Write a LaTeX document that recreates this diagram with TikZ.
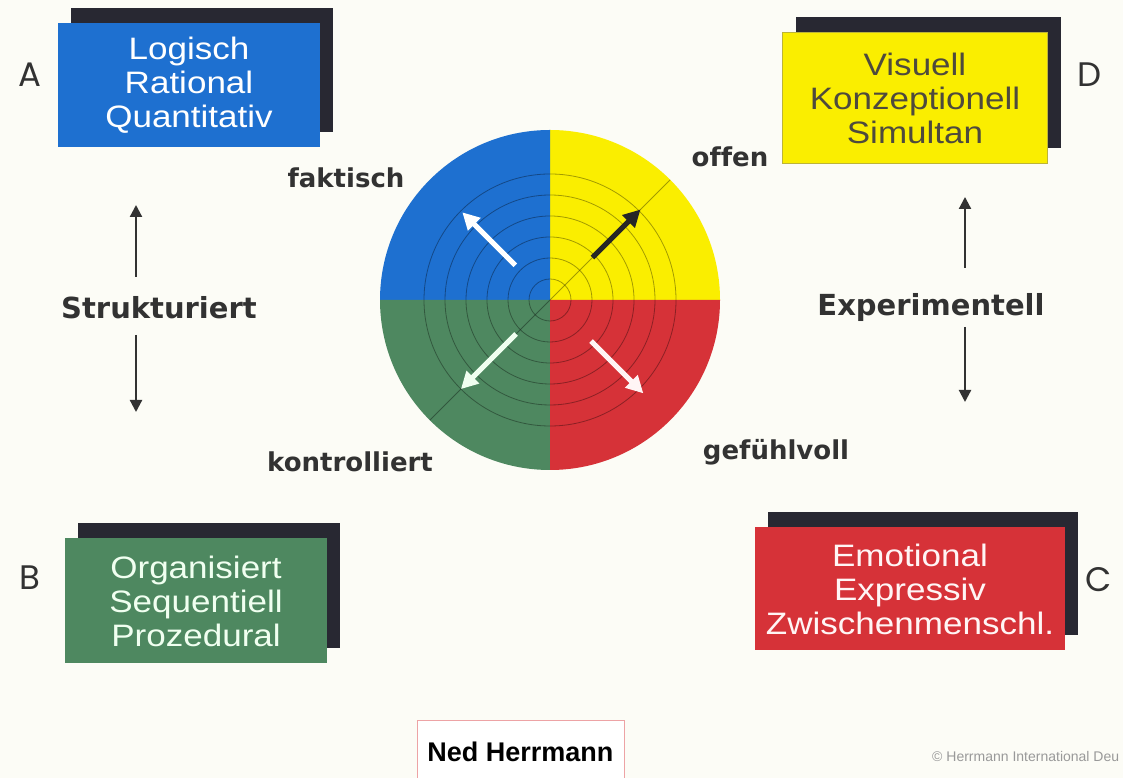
\documentclass[tikz,border=0pt]{standalone}
\usepackage{fontspec}
\setmainfont{Liberation Sans}
\newfontfamily\boxfont{Liberation Sans}[FakeStretch=1.13]
\newfontfamily\lblfont{DejaVu Sans}[Ligatures=NoCommon]
\newfontfamily\letterfont{Poppins}
\usetikzlibrary{arrows.meta,shadows}

\definecolor{paper}{RGB}{252,252,246}
\definecolor{hblue}{RGB}{30,112,208}
\definecolor{hyellow}{RGB}{250,238,0}
\definecolor{hgreen}{RGB}{78,136,96}
\definecolor{hred}{RGB}{214,50,56}
\definecolor{shade}{RGB}{40,40,50}
\definecolor{ink}{RGB}{50,50,50}

\tikzset{
  quad/.style={general shadow={shadow xshift=13pt, shadow yshift=15pt, fill=shade},
    inner sep=0pt, align=center, font=\boxfont\fontsize{31}{34}\selectfont},
  lbl/.style={text=ink, font=\lblfont\bfseries\fontsize{26}{30}\selectfont},
  biglbl/.style={text=ink, font=\lblfont\bfseries\fontsize{29}{32}\selectfont},
  letter/.style={text=ink, font=\letterfont\fontsize{34}{36}\selectfont},
  ring/.style={draw=black, opacity=0.35, line width=0.8pt},
  spoke/.style={line width=5pt, -{Triangle[length=17pt,width=17pt]}},
  updown/.style={draw=ink, line width=2.2pt, -{Triangle[length=12pt,width=12pt]}}
}

\begin{document}
\begin{tikzpicture}[x=1pt,y=1pt]
    \useasboundingbox (0,0) rectangle (1123,778);
    \fill[paper] (0,0) rectangle (1123,778);

    % circle
    \coordinate (O) at (550,478);
    \fill[hyellow] (O) -- ++(0:170pt) arc (0:90:170pt) -- cycle;
    \fill[hblue] (O) -- ++(90:170pt) arc (90:180:170pt) -- cycle;
    \fill[hgreen] (O) -- ++(180:170pt) arc (180:270:170pt) -- cycle;
    \fill[hred] (O) -- ++(270:170pt) arc (270:360:170pt) -- cycle;
    \foreach \r in {21,42,63,84,105,126}
      \draw[ring] (O) circle (\r pt);
    \draw[ring] ([shift={(225:170pt)}]O) -- ([shift={(45:170pt)}]O);

    \draw[spoke, white] ([shift={(135:49pt)}]O) -- ([shift={(135:124pt)}]O);
    \draw[spoke, black!85] ([shift={(45:60pt)}]O) -- ([shift={(45:128pt)}]O);
    \draw[spoke, green!6!white] ([shift={(225:48pt)}]O) -- ([shift={(225:126pt)}]O);
    \draw[spoke, red!4!white] ([shift={(315:58pt)}]O) -- ([shift={(315:132pt)}]O);

    \node[lbl] (fakt) at (346,600) {faktisch};
    \node[lbl] (offen) at (730,621) {offen};
    \node[lbl] (kontr) at (350,316) {kontrolliert};
    \node[lbl] (gefuehl) at (776,326) {gefühlvoll};

    % boxes
    \node[quad, fill=hblue, text=white, minimum width=262pt, minimum height=124pt]
      (A) at (189,693) {Logisch\\Rational\\Quantitativ};
    \node[quad, fill=hgreen, text=green!6!white, minimum width=262pt, minimum height=125pt]
      (B) at (196,177) {Organisiert\\Sequentiell\\Prozedural};
    \node[quad, fill=hred, text=red!4!white, minimum width=310pt, minimum height=123pt]
      (C) at (910,189) {Emotional\\Expressiv\\Zwischenmenschl.};
    \node[quad, fill=hyellow, draw=yellow!70!black, text=black!80!yellow, minimum width=265pt, minimum height=131pt]
      (D) at (915,680) {Visuell\\Konzeptionell\\Simultan};

    \node[letter] (la) at (30,703) {A};
    \node[letter] (lb) at (30,200) {B};
    \node[letter] (lc) at (1099,198) {C};
    \node[letter] (ld) at (1090,703) {D};

    % axes
    \node[biglbl] (struk) at (159,470) {Strukturiert};
    \node[biglbl] (exper) at (931,470) {Experimentell};
    \coordinate (s1) at (136,501);
    \coordinate (s2) at (136,573);
    \coordinate (s3) at (136,443);
    \coordinate (s4) at (136,366);
    \coordinate (e1) at (965,510);
    \coordinate (e2) at (965,581);
    \coordinate (e3) at (965,451);
    \coordinate (e4) at (965,376);
    \draw[updown] (s1) -- (s2);
    \draw[updown] (s3) -- (s4);
    \draw[updown] (e1) -- (e2);
    \draw[updown] (e3) -- (e4);

    \node[draw=hred!45, line width=1pt, fill=white, minimum width=207pt, minimum height=62pt,
      font=\bfseries\fontsize{27}{30}\selectfont] (ned) at (520.5,26) {Ned Herrmann};
    \node[anchor=west, inner sep=0pt, text=gray!80, font=\fontsize{14}{16}\selectfont]
      (copy) at (932,22) {© Herrmann International Deu};
  \end{tikzpicture}
\end{document}
